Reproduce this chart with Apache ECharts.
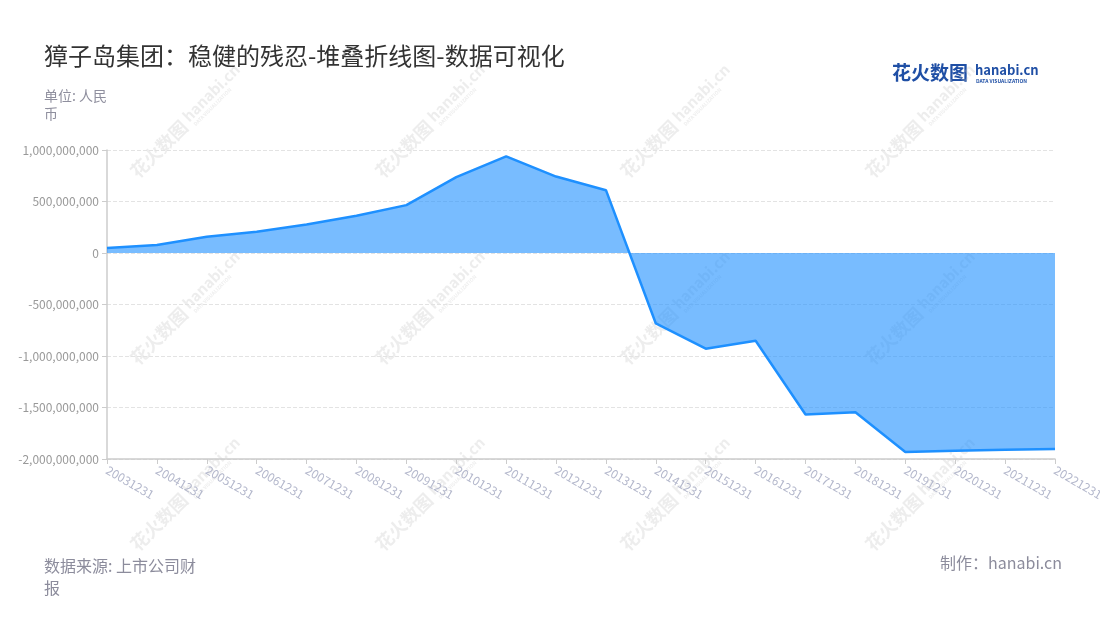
<!DOCTYPE html>
<html>
<head>
<meta charset="utf-8">
<script src="https://cdn.jsdelivr.net/npm/echarts@6/dist/echarts.min.js"></script>
<style>html,body{margin:0;padding:0;background:#fff}#c{width:1100px;height:620px}</style>
</head>
<body>
<div id="c"></div>
<script>
var categories = ['20031231','20041231','20051231','20061231','20071231','20081231','20091231','20101231','20111231','20121231','20131231','20141231','20151231','20161231','20171231','20181231','20191231','20201231','20211231','20221231'];
var values = [48000000, 77000000, 158000000, 206000000, 276000000, 361000000, 465000000, 736000000, 939000000, 742000000, 610000000, -684000000, -929000000, -852000000, -1568000000, -1546000000, -1933000000, -1920000000, -1911000000, -1904000000];
var yTicks = {min: -2000000000, max: 1000000000, interval: 500000000};
var titleText = '獐子岛集团：稳健的残忍-堆叠折线图-数据可视化';
var unitText = '单位: 人民\n币';
var sourceText = '数据来源: 上市公司财\n报';
var makerText = '制作：hanabi.cn';

var FONT = '"Noto Sans CJK SC", "Noto Sans", sans-serif';
var chart = echarts.init(document.getElementById('c'), null, {renderer: 'canvas'});

function watermark(cx, cy) {
  var col = 'rgba(190,190,190,0.28)';
  return {
    type: 'group', x: cx, y: cy, rotation: Math.PI / 4, z: 100, silent: true,
    children: [
      {type: 'text', x: -70, y: 0, style: {text: '花火数图', font: 'bold 18px ' + FONT, fill: col, verticalAlign: 'middle', align: 'left'}},
      {type: 'text', x: 6, y: -3, style: {text: 'hanabi.cn', font: 'bold 15px ' + FONT, fill: col, verticalAlign: 'middle', align: 'left'}},
      {type: 'text', x: 8, y: 8, style: {text: 'DATA VISUALIZATION', font: 'bold 5px ' + FONT, fill: col, verticalAlign: 'middle', align: 'left'}}
    ]
  };
}

var graphics = [
  {type: 'text', left: 44, top: 87, style: {text: unitText, font: '14px ' + FONT, fill: '#8f8f9e', lineHeight: 18}},
  {type: 'text', left: 44, top: 555, style: {text: sourceText, font: '16px ' + FONT, fill: '#8c8c9c', lineHeight: 22}},
  {type: 'text', right: 38, top: 555, style: {text: makerText, font: '16px ' + FONT, fill: '#8c8c9c'}},
  {type: 'text', x: 892, y: 73, style: {text: '花火数图', font: 'bold 19px ' + FONT, fill: '#1f4fa5', verticalAlign: 'middle'}},
  {type: 'text', x: 975, y: 70, style: {text: 'hanabi.cn', font: 'bold 13px ' + FONT, fill: '#1f4fa5', verticalAlign: 'middle'}},
  {type: 'text', x: 976, y: 81, style: {text: 'DATA VISUALIZATION', font: 'bold 5px ' + FONT, fill: '#1f4fa5', verticalAlign: 'middle'}}
];
var wx = [183, 428, 673, 918], wy = [125, 312, 498];
wx.forEach(function (x) { wy.forEach(function (y) { graphics.push(watermark(x, y)); }); });

chart.setOption({
  backgroundColor: '#fff',
  animation: false,
  textStyle: {fontFamily: FONT},
  title: {text: titleText, left: 39, top: 39, textStyle: {fontSize: 24, fontWeight: 'normal', color: '#333', fontFamily: FONT}},
  grid: {left: 107, right: 45, top: 150, bottom: 161, containLabel: false, outerBoundsMode: 'none'},
  xAxis: {
    type: 'category', data: categories, boundaryGap: false,
    axisLine: {onZero: false, lineStyle: {color: '#ccc', width: 1.5}},
    axisTick: {show: true, lineStyle: {color: '#ccc'}},
    axisLabel: {rotate: -30, color: '#b4b8cc', fontSize: 12, margin: 10, interval: 0, fontFamily: FONT},
    splitLine: {show: false}
  },
  yAxis: {
    type: 'value', min: yTicks.min, max: yTicks.max, interval: yTicks.interval,
    axisLine: {show: true, lineStyle: {color: '#ccc', width: 1.5}},
    axisTick: {show: true, lineStyle: {color: '#ccc'}},
    axisLabel: {color: '#999', fontSize: 12, margin: 8, fontFamily: FONT,
      formatter: function (v) { return v.toLocaleString('en-US'); }},
    splitLine: {show: true, lineStyle: {color: '#e3e3e3', type: 'dashed'}}
  },
  series: [{
    type: 'line', data: values, symbol: 'none', stack: 'total',
    lineStyle: {color: '#1e90ff', width: 2.5},
    itemStyle: {color: '#1e90ff'},
    areaStyle: {color: '#1e90ff', opacity: 0.6}
  }],
  graphic: graphics
});
</script>
</body>
</html>
